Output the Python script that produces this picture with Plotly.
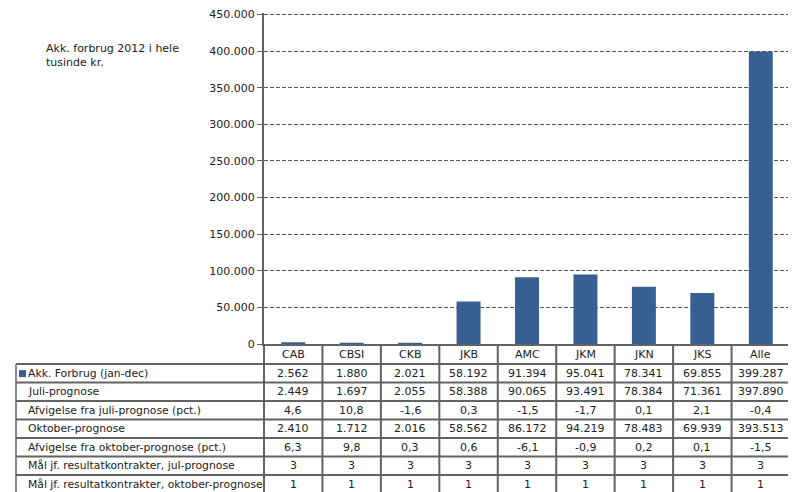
import plotly.graph_objects as go

categories = ["CAB", "CBSI", "CKB", "JKB", "AMC", "JKM", "JKN", "JKS", "Alle"]
akk_forbrug = [2562, 1880, 2021, 58192, 91394, 95041, 78341, 69855, 399287]
juli_prognose = [2449, 1697, 2055, 58388, 90065, 93491, 78384, 71361, 397890]
afv_juli = [4.6, 10.8, -1.6, 0.3, -1.5, -1.7, 0.1, 2.1, -0.4]
oktober_prognose = [2410, 1712, 2016, 58562, 86172, 94219, 78483, 69939, 393513]
afv_oktober = [6.3, 9.8, 0.3, 0.6, -6.1, -0.9, 0.2, 0.1, -1.5]
maal_juli = [3, 3, 3, 3, 3, 3, 3, 3, 3]
maal_oktober = [1, 1, 1, 1, 1, 1, 1, 1, 1]
y_ticks = [0, 50000, 100000, 150000, 200000, 250000, 300000, 350000, 400000, 450000]

row_labels = [
    "Akk. Forbrug (jan-dec)",
    "Juli-prognose",
    "Afvigelse fra juli-prognose (pct.)",
    "Oktober-prognose",
    "Afvigelse fra oktober-prognose (pct.)",
    "Mål jf. resultatkontrakter, jul-prognose",
    "Mål jf. resultatkontrakter, oktober-prognose",
]


def fmt_int(v):
    return f"{v:,}".replace(",", ".")


def fmt_dec(v):
    return f"{v:.1f}".replace(".", ",")


rows = [
    [fmt_int(v) for v in akk_forbrug],
    [fmt_int(v) for v in juli_prognose],
    [fmt_dec(v) for v in afv_juli],
    [fmt_int(v) for v in oktober_prognose],
    [fmt_dec(v) for v in afv_oktober],
    [str(v) for v in maal_juli],
    [str(v) for v in maal_oktober],
]

# page body has an 8px margin; work in screen pixels and shift
OFF = 8
Y_MAX = 452000          # a little headroom so the 450.000 gridline is drawn
axis_bottom = 344        # screen y of value 0
y450 = 14                # screen y of value 450.000
top_screen = axis_bottom - (axis_bottom - y450) * Y_MAX / 450000

W, H = 796 - OFF, 492 - OFF
plot_left, plot_right = 264, 790
L = plot_left - OFF
R = W - (plot_right - OFF)
T = top_screen - OFF
B = 0
PW = W - L - R
PH = H - T - B


def px_x(sx):
    return (sx - OFF - L) / PW


def px_y(sy):
    return (H - B - (sy - OFF)) / PH


BAR = "#375f91"
LINE = "#636363"
FONT = "DejaVu Sans"
TXT = "#222222"

header_h = 20
row_h = 18.5
label_left = 16

fig = go.Figure()
fig.add_trace(go.Bar(
    x=list(range(len(categories))), y=akk_forbrug, marker=dict(color=BAR, line=dict(width=0)),
    width=0.41, name=row_labels[0], showlegend=False, hoverinfo="y",
))

shapes = []
annotations = []

# horizontal table lines
for k in range(len(rows) + 1):
    sy = axis_bottom + header_h + row_h * k
    if sy > 492:
        continue
    shapes.append(dict(type="line", xref="paper", yref="paper",
                       x0=px_x(label_left), x1=1, y0=px_y(sy), y1=px_y(sy),
                       line=dict(color=LINE, width=2)))
# vertical lines
shapes.append(dict(type="line", xref="paper", yref="paper",
                   x0=px_x(label_left), x1=px_x(label_left),
                   y0=px_y(axis_bottom + header_h), y1=0, line=dict(color=LINE, width=1.5)))
shapes.append(dict(type="line", xref="paper", yref="paper", x0=0, x1=0,
                   y0=px_y(axis_bottom), y1=0, line=dict(color=LINE, width=2)))
shapes.append(dict(type="line", xref="paper", yref="paper", x0=1, x1=1,
                   y0=px_y(axis_bottom), y1=0, line=dict(color=LINE, width=2)))
for i in range(1, len(categories)):
    shapes.append(dict(type="line", xref="x", yref="paper", x0=i - 0.5, x1=i - 0.5,
                       y0=px_y(axis_bottom), y1=0, line=dict(color=LINE, width=2)))
# legend key
shapes.append(dict(type="rect", xref="paper", yref="paper",
                   x0=px_x(19), x1=px_x(26), y0=px_y(377), y1=px_y(370),
                   fillcolor=BAR, line=dict(width=0)))

# header text
for i, c in enumerate(categories):
    annotations.append(dict(x=i, y=px_y(axis_bottom + header_h / 2), xref="x", yref="paper",
                            text=c, showarrow=False, font=dict(family=FONT, size=11, color=TXT),
                            xanchor="center", yanchor="middle"))
# rows
for k, (lab, vals) in enumerate(zip(row_labels, rows)):
    cy = px_y(axis_bottom + header_h + row_h * k + row_h / 2)
    annotations.append(dict(x=px_x(26), y=cy, xref="paper", yref="paper", text=lab,
                            showarrow=False, font=dict(family=FONT, size=10.8, color=TXT),
                            xanchor="left", yanchor="middle"))
    for i, v in enumerate(vals):
        annotations.append(dict(x=i, y=cy, xref="x", yref="paper", text=v, showarrow=False,
                                font=dict(family=FONT, size=11, color=TXT),
                                xanchor="center", yanchor="middle"))

annotations.append(dict(x=px_x(44), y=px_y(40), xref="paper", yref="paper",
                        text="Akk. forbrug 2012 i hele<br>tusinde kr.", showarrow=False,
                        align="left", xanchor="left", yanchor="top",
                        font=dict(family=FONT, size=11, color=TXT)))

fig.update_layout(
    width=W, height=H,
    margin=dict(l=L, r=R, t=T, b=B, pad=0, autoexpand=False),
    paper_bgcolor="white", plot_bgcolor="white",
    separators=",.",
    font=dict(family=FONT, size=11, color=TXT),
    bargap=0.59,
    showlegend=False,
    xaxis=dict(range=[-0.5, len(categories) - 0.5], showticklabels=False, ticks="",
               showgrid=False, zeroline=False, showline=True, linecolor=LINE, linewidth=2,
               fixedrange=True),
    yaxis=dict(domain=[px_y(axis_bottom), 1], range=[0, Y_MAX], tickvals=y_ticks,
               tickformat=",d", ticks="outside", ticklen=5, tickcolor=LINE, tickwidth=1,
               showline=True, linecolor=LINE, linewidth=2, zeroline=False,
               showgrid=True, gridcolor="#555555", gridwidth=1, griddash="4px,2px",
               tickfont=dict(family=FONT, size=11, color=TXT), fixedrange=True),
    shapes=shapes,
    annotations=annotations,
)

fig.write_html("out.html")
